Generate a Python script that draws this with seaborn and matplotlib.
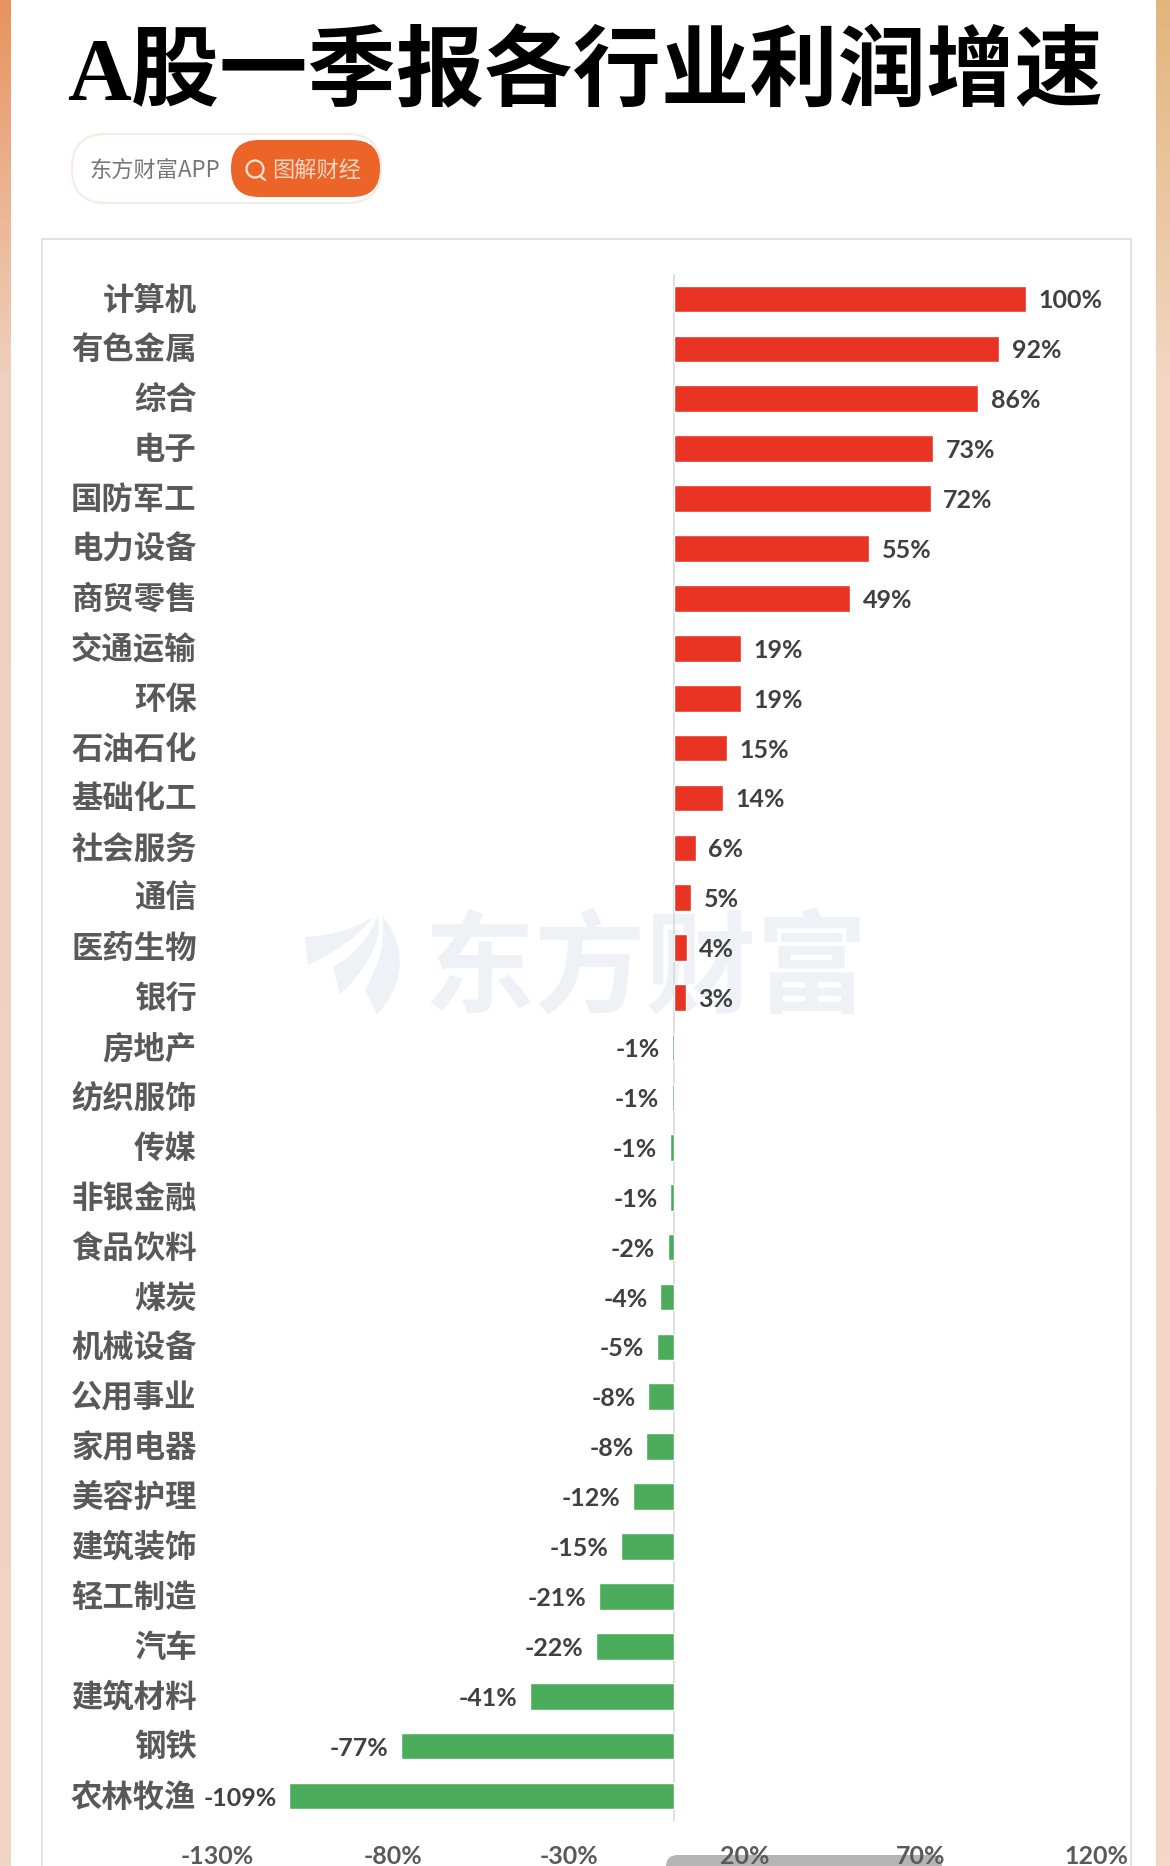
import numpy as np
import pandas as pd
import matplotlib
matplotlib.use("Agg")
import matplotlib.pyplot as plt
from matplotlib.colors import LinearSegmentedColormap
from matplotlib.patches import FancyBboxPatch, Rectangle, Circle, PathPatch
from matplotlib.path import Path
from matplotlib.transforms import ScaledTranslation
import seaborn as sns

# values
industries = ['计算机', '有色金属', '综合', '电子', '国防军工', '电力设备', '商贸零售', '交通运输',
              '环保', '石油石化', '基础化工', '社会服务', '通信', '医药生物', '银行', '房地产',
              '纺织服饰', '传媒', '非银金融', '食品饮料', '煤炭', '机械设备', '公用事业', '家用电器',
              '美容护理', '建筑装饰', '轻工制造', '汽车', '建筑材料', '钢铁', '农林牧渔']
growth = [100, 92.3, 86.3, 73.6, 72.8, 55.4, 49.9, 19, 19, 14.8, 13.9, 6, 4.7, 3.5, 3.2,
          -0.6, -0.8, -1.4, -1.3, -1.9, -4, -5, -7.5, -8.1, -11.9, -15.3, -21.6, -22.3,
          -41, -77.8, -109.5]
growth_labels = ['100%', '92%', '86%', '73%', '72%', '55%', '49%', '19%', '19%', '15%', '14%',
                 '6%', '5%', '4%', '3%', '-1%', '-1%', '-1%', '-1%', '-2%', '-4%', '-5%', '-8%',
                 '-8%', '-12%', '-15%', '-21%', '-22%', '-41%', '-77%', '-109%']
xticks = [-130, -80, -30, 20, 70, 120]

W, H = 1170, 1866
CJK = ['Noto Sans CJK SC', 'DejaVu Sans']

sns.set_theme(style="white")
plt.rcParams['font.family'] = CJK
plt.rcParams['axes.unicode_minus'] = False

df = pd.DataFrame({'industry': industries, 'growth': growth})
df['sign'] = np.where(df['growth'] > 0, 'up', 'down')

fig = plt.figure(figsize=(W / 100, H / 100), dpi=100)

# page background, in pixel coordinates
bg = fig.add_axes([0, 0, 1, 1], zorder=0)
bg.axis('off')

fade = np.linspace(0, 1, 256).reshape(-1, 1)
left_cm = LinearSegmentedColormap.from_list(
    'l', [(0, '#E8935F'), (0.09, '#EBB08C'), (0.2, '#EFD0BC'), (1, '#EFD5C3')])
right_cm = LinearSegmentedColormap.from_list(
    'r', [(0, '#E3B57E'), (0.09, '#E9C49C'), (0.2, '#F2D6C2'), (1, '#F4D8C6')])
bg.imshow(fade, cmap=left_cm, extent=(0, 11, H, 0), aspect='auto', zorder=0)
bg.imshow(fade, cmap=right_cm, extent=(1156, W, H, 0), aspect='auto', zorder=0)
bg.set_xlim(0, W)
bg.set_ylim(H, 0)

# chart panel
bg.add_patch(Rectangle((42, 239), 1089, H, fc='white', ec='#DDDDDD', lw=1.2, zorder=1))

# title
bg.text(67, 76, 'A股一季报各行业利润增速', family=['Liberation Serif', 'Noto Sans CJK SC'],
        fontsize=63.6, fontweight='black', color='black', ha='left', va='center', zorder=2)

# search pill
bg.add_patch(FancyBboxPatch((72 + 34, 134 + 34), 309 - 68, 1, boxstyle='round,pad=34',
                            fc='white', ec='#F8EAE3', lw=1.5, zorder=2))
bg.add_patch(FancyBboxPatch((231 + 28, 140 + 28), 149 - 56, 1, boxstyle='round,pad=28',
                            fc='#EC6427', ec='none', zorder=3))
bg.text(89, 170, '东方财富APP', color='#777777', fontsize=16, ha='left', va='center', zorder=4)
bg.text(272, 170, '图解财经', color='#F9D9C6', fontsize=16, ha='left', va='center', zorder=4)
bg.add_patch(Circle((255, 169), 8.5, fc='none', ec='#F9E3D6', lw=1.6, zorder=4))
bg.plot([260, 265], [176, 180], color='#F9E3D6', lw=1.6, zorder=4)

# watermark
WM = '#EEF2F6'
bg.text(646, 971, '东方财富', color=WM, fontsize=80, fontweight='bold',
        ha='center', va='center', zorder=2)
# logo wing: three curved blades
blades = [
    [(305, 937), (345, 935), (373, 917), (352, 945), (308, 965)],
    [(333, 967), (365, 950), (378, 915), (385, 950), (340, 995)],
    [(365, 990), (388, 950), (382, 915), (420, 965), (377, 1015)],
]
codes = [Path.MOVETO, Path.CURVE3, Path.CURVE3, Path.CURVE3, Path.CURVE3, Path.CLOSEPOLY]
for pts in blades:
    bg.add_patch(PathPatch(Path(pts + [pts[0]], codes), fc=WM, ec='none', zorder=2))

# scroll handle at the bottom
bg.add_patch(FancyBboxPatch((678, 1867), 252, 1, boxstyle='round,pad=12',
                            fc='#B4B4B4', ec='none', zorder=3))

# bars
ax = fig.add_axes([216.6 / W, 1 - 1821 / H, 880 / W, (1821 - 274) / H], zorder=1)
ax.patch.set_alpha(0)
sns.barplot(data=df, x='growth', y='industry', hue='sign', hue_order=['up', 'down'],
            palette={'up': '#E93323', 'down': '#4BAD5B'}, dodge=False, legend=False,
            width=0.535, orient='h', saturation=1, ax=ax)

xscale = 3.52
ax.set_xlim(-130 - 0.6 / xscale, 120 - 0.6 / xscale)
ax.set_ylim(len(industries) - 0.5, -0.5)
ax.axvline(0, color='#D9D9D9', lw=1.2, zorder=0)
sns.despine(ax=ax, left=True, bottom=True)

ax.set_xlabel('')
ax.set_ylabel('')
ax.set_xticks(xticks)
ax.set_xticklabels([f'{t}%' for t in xticks], fontfamily=['Lato', 'DejaVu Sans'],
                   fontweight='bold', fontsize=18, color='#5A5A5A')
ax.tick_params(axis='x', length=0, pad=17)
ax.tick_params(axis='y', length=0, pad=14.4)
nudge = ScaledTranslation(0, 2.0 / 100, fig.dpi_scale_trans)
for lab in ax.get_yticklabels():
    lab.set_fontweight('bold')
    lab.set_fontsize(22.6)
    lab.set_color('#595959')
    lab.set_transform(lab.get_transform() + nudge)

# data labels
for i, (val, lb) in enumerate(zip(growth, growth_labels)):
    ax.annotate(lb, (val, i), xytext=(9 if val > 0 else -9, 0), textcoords='offset points',
                ha='left' if val > 0 else 'right', va='center_baseline',
                family=['Lato', 'DejaVu Sans'], fontweight='bold', fontsize=18, color='#404040')

fig.savefig('out.png', dpi=100)
